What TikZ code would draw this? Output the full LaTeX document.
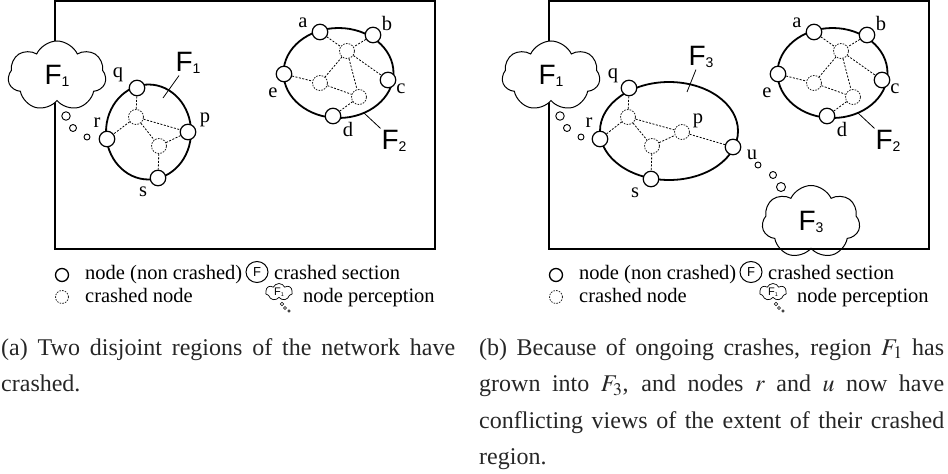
\documentclass[tikz,border=0pt]{standalone}
\usepackage{mathptmx}
\usepackage[no-math]{fontspec}
\setmainfont{Liberation Serif}
\newfontfamily\helv{Liberation Sans}
\usetikzlibrary{shapes.symbols,shapes.geometric}
\newcommand{\crashF}[1]{{\helv F\raisebox{-.1ex}{\scalebox{.5}{#1}}}}

\begin{document}
\begin{tikzpicture}[x=1pt,y=-1pt,
        alive/.style={circle,draw,fill=white,line width=1.2pt,minimum size=15.5pt,inner sep=0pt},
        crashed/.style={circle,draw=black!85,dash pattern=on 1.6pt off 1.2pt,line width=.8pt,minimum size=15pt,inner sep=0pt},
        link/.style={dash pattern=on 2pt off 1.5pt,line width=.8pt},
        region/.style={line width=1.8pt},
        frame/.style={line width=1.3pt},
        thought/.style={cloud,cloud puffs=7,cloud puff arc=130,cloud ignores aspect,draw,fill=white,line width=1pt,
                        minimum width=98pt,minimum height=70pt,font=\fontsize{28}{28}\selectfont},
        bubble/.style={circle,draw,fill=white,line width=.9pt,inner sep=0pt},
        lbl/.style={font=\fontsize{20.5}{24}\selectfont,inner sep=1pt},
        bigF/.style={font=\fontsize{28}{28}\selectfont,inner sep=2pt},
        caption/.style={font=\fontsize{24}{36.5}\selectfont,align=justify,inner sep=0pt,anchor=base west,
                        text=black!85,execute at begin node={\hyphenpenalty=10000\exhyphenpenalty=10000}}]
        \useasboundingbox (0,0) rectangle (948,474);

        % both panels: frame, cloud of r, region F2, legend
        \foreach \dx/\s in {0/a,494/b}{
          \begin{scope}[shift={(\dx,0)}]
            \draw[frame] (55,1) rectangle (435,249);

            \node[thought] (\s-cl) at (57,76) {\crashF{1}};
            \node[bubble,minimum size=8.5pt] (\s-cb1) at (66,116) {};
            \node[bubble,minimum size=7pt  ] (\s-cb2) at (73,128) {};
            \node[bubble,minimum size=6pt  ] (\s-cb3) at (87,137) {};

            \draw[region] (338.5,73) ellipse [x radius=55,y radius=45];
            \node[crashed] (\s-x1) at (347,51) {};
            \node[crashed] (\s-x2) at (320,83) {};
            \node[crashed] (\s-x3) at (359,97) {};
            \node[alive] (\s-a) at (320,32) {};
            \node[alive] (\s-b) at (373,35) {};
            \node[alive] (\s-c) at (388,80) {};
            \node[alive] (\s-d) at (333,116) {};
            \node[alive] (\s-e) at (284,74) {};
            \draw[link] (\s-a)--(\s-x1) (\s-b)--(\s-x1) (\s-x1)--(\s-c) (\s-x1)--(\s-x2)
                        (\s-x1)--(\s-x3) (\s-e)--(\s-x2) (\s-x2)--(\s-x3) (\s-x3)--(\s-d);
            \node[lbl] (\s-al) at (303,23) {a};
            \node[lbl] (\s-bl) at (387,23) {b};
            \node[lbl] (\s-cl2) at (401,89) {c};
            \node[lbl] (\s-dl) at (348,129) {d};
            \node[lbl] (\s-el) at (273,93) {e};
            \node[bigF] (\s-F2) at (394,141) {\crashF{2}};
            \coordinate (\s-F2in) at (364,113);
            \draw[line width=.8pt] (\s-F2) -- (\s-F2in);

            % legend
            \node[alive,minimum size=13pt,line width=1.3pt] (\s-k1) at (62,275) {};
            \node[lbl,anchor=base west] (\s-t1) at (84,279) {node (non crashed)};
            \node[crashed,minimum size=13pt] (\s-k2) at (62,297) {};
            \node[lbl,anchor=base west] (\s-t2) at (84,302) {crashed node};
            \node[ellipse,draw,line width=1pt,minimum width=22pt,minimum height=21pt,inner sep=0pt,
                  font=\helv\fontsize{13}{13}\selectfont] (\s-k3) at (257,272) {F};
            \node[lbl,anchor=base west] (\s-t3) at (273,279) {crashed section};
            \node[thought,minimum width=27pt,minimum height=17pt,line width=.7pt,inner sep=0pt,
                  font=\fontsize{11}{11}\selectfont] (\s-k4) at (279,292) {\crashF{1}};
            \node[bubble,minimum size=3.5pt,line width=.6pt] (\s-kb1) at (282,304) {};
            \node[bubble,minimum size=3pt,line width=.6pt] (\s-kb2) at (285,308) {};
            \node[bubble,minimum size=2.5pt,line width=.6pt] (\s-kb3) at (289,311) {};
            \node[lbl,anchor=base west] (\s-t4) at (302,302) {node perception};
          \end{scope}
        }

        % (a) region F1
        \draw[region] (148.5,132) ellipse [x radius=42.5,y radius=47.5];
        \node[crashed] (a-y1) at (136,117) {};
        \node[crashed] (a-y2) at (159,146) {};
        \node[alive] (a-q) at (137,88) {};
        \node[alive] (a-p) at (188,132) {};
        \node[alive] (a-r) at (107,139) {};
        \node[alive] (a-s) at (158,178) {};
        \draw[link] (a-q)--(a-y1) (a-y1)--(a-r) (a-y1)--(a-p) (a-y1)--(a-y2) (a-y2)--(a-p) (a-y2)--(a-s);
        \node[lbl] (a-ql) at (118,75) {q};
        \node[lbl] (a-pl) at (205,120) {p};
        \node[lbl] (a-rl) at (97,123) {r};
        \node[lbl] (a-sl) at (143,192) {s};
        \node[bigF] (a-F1) at (188,63) {\crashF{1}};
        \coordinate (a-F1in) at (163,98);
        \draw[line width=.8pt] (a-F1) -- (a-F1in);

        % (b) region F3 and the view of u
        \begin{scope}[shift={(494,0)}]
          \draw[region] (175,131) ellipse [x radius=69,y radius=49];
          \node[crashed] (b-y1) at (134,117) {};
          \node[crashed] (b-y2) at (158,146) {};
          \node[crashed] (b-p) at (188,132) {};
          \node[alive] (b-q) at (135,88) {};
          \node[alive] (b-r) at (106,139) {};
          \node[alive] (b-s) at (157,179) {};
          \node[alive] (b-u) at (239,147) {};
          \draw[link] (b-q)--(b-y1) (b-y1)--(b-r) (b-y1)--(b-p) (b-y1)--(b-y2) (b-y2)--(b-p) (b-y2)--(b-s) (b-p)--(b-u);
          \node[lbl] (b-ql) at (119,76) {q};
          \node[lbl] (b-pl) at (204,121) {p};
          \node[lbl] (b-rl) at (95,123) {r};
          \node[lbl] (b-sl) at (141,193) {s};
          \node[lbl] (b-ul) at (258,155) {u};
          \node[bigF] (b-F3) at (207,57) {\crashF{3}};
          \coordinate (b-F3in) at (193,92);
          \draw[line width=.8pt] (b-F3) -- (b-F3in);

          \node[bubble,minimum size=6pt] (b-ub1) at (264,165) {};
          \node[bubble,minimum size=7pt] (b-ub2) at (279,175) {};
          \node[bubble,minimum size=9pt] (b-ub3) at (287,187) {};
          \node[thought,fill=none,minimum height=73pt] (b-cu) at (317,222) {\crashF{3}};
        \end{scope}

        % captions
        \node[caption,text width=454pt] (capa) at (1,355)
          {(a) Two disjoint regions of the network have crashed.};
        \node[caption,text width=465pt] (capb) at (479,355)
          {(b) Because of ongoing crashes, region $F_1$ has grown into $F_3$, and nodes $r$ and $u$ now have conflicting views of the extent of their crashed region.};
\end{tikzpicture}
\end{document}
